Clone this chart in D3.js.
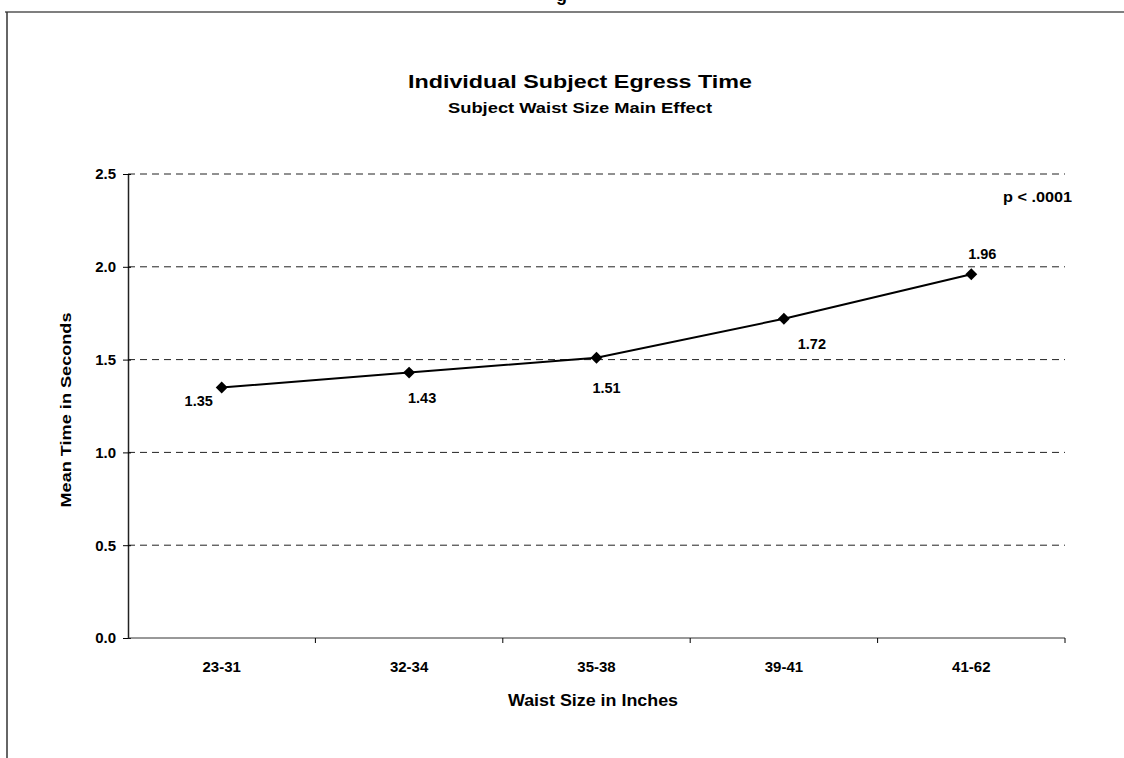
<!DOCTYPE html>
<html>
<head>
<meta charset="utf-8">
<script src="https://cdn.jsdelivr.net/npm/d3@7"></script>
<style>
  body { margin: 0; background: #fff; }
  svg { font-family: "Liberation Sans", Arial, sans-serif; font-weight: bold; }
  .tick text { font-size: 15px; font-weight: bold; fill: #000; }
</style>
</head>
<body>
<svg id="chart" width="1124" height="758"></svg>
<script>
const categories = ['23-31', '32-34', '35-38', '39-41', '41-62'];
const meanTimes = [1.35, 1.43, 1.51, 1.72, 1.96];
const yTicks = [0, 0.5, 1.0, 1.5, 2.0, 2.5];
// label offsets (dx, dy) relative to the point, like Excel put them
const labelOffsets = [[-23, 19], [13, 30], [10, 35], [28, 30], [11, -15]];

const svg = d3.select('#chart');
const plotLeft = 128, plotRight = 1065, plotTop = 174, plotBottom = 638;

// page frame
svg.append('line').attr('x1', 5).attr('x2', 1124).attr('y1', 12).attr('y2', 12)
  .attr('stroke', '#555').attr('stroke-width', 1.5);
svg.append('line').attr('x1', 7).attr('x2', 7).attr('y1', 12).attr('y2', 758)
  .attr('stroke', '#333').attr('stroke-width', 1.5);
// bit of a glyph from the page above, cut off like in the scan
svg.append('text').text('g').attr('x', 556).attr('y', 1).attr('font-size', 18)

const x = d3.scaleBand().domain(categories).range([plotLeft, plotRight]);
const y = d3.scaleLinear().domain([0, 2.5]).range([plotBottom, plotTop]);

// gridlines
svg.append('g')
  .selectAll('line')
  .data(yTicks.filter(d => d > 0))
  .enter().append('line')
  .attr('x1', plotLeft).attr('x2', plotRight)
  .attr('y1', d => y(d)).attr('y2', d => y(d))
  .attr('stroke', '#222').attr('stroke-width', 1)
  .attr('stroke-dasharray', '7,5')

const leftAxis = d3.axisLeft(y).tickValues(yTicks).tickFormat(d3.format('.1f'))
  .tickSizeInner(5).tickSizeOuter(0).tickPadding(7);
const ya = svg.append('g').attr('transform', `translate(${plotLeft},0)`).call(leftAxis);
ya.selectAll('.tick line').attr('x2', -5).attr('x1', 3);
ya.select('.domain').attr('stroke', '#222').attr('stroke-width', 1.5);

const bottomAxis = d3.axisBottom(x).tickSize(0).tickPadding(23);
const xa = svg.append('g').attr('transform', `translate(0,${plotBottom})`).call(bottomAxis);
xa.select('.domain').attr('d', `M${plotLeft},0H${plotRight}`).attr('stroke', '#333');
// tick marks at band edges
xa.selectAll('.edge')
  .data(categories)
  .enter().append('line')
  .attr('x1', (d, i) => plotLeft + x.step() * (i + 1))
  .attr('x2', (d, i) => plotLeft + x.step() * (i + 1))
  .attr('y1', 0).attr('y2', 5).attr('stroke', '#000');

// line
const cx = (d, i) => x(categories[i]) + x.bandwidth() / 2;
svg.append('path')
  .datum(meanTimes)
  .attr('fill', 'none').attr('stroke', '#000').attr('stroke-width', 2)
  .attr('d', d3.line().x(cx).y(d => y(d)));

svg.append('g')
  .selectAll('path')
  .data(meanTimes)
  .enter().append('path')
  .attr('d', d3.symbol(d3.symbolDiamond2, 90))
  .attr('transform', (d, i) => `translate(${cx(d, i)},${y(d)})`)
  .attr('fill', '#000');

svg.append('g')
  .selectAll('text')
  .data(meanTimes)
  .enter().append('text')
  .text(d => d.toFixed(2))
  .attr('x', (d, i) => cx(d, i) + labelOffsets[i][0])
  .attr('y', (d, i) => y(d) + labelOffsets[i][1])
  .attr('text-anchor', 'middle')
  .attr('font-size', 14.5);

// titles; the scan uses a wide bold face so stretch to its width
const label = (txt, px, py, size, len) => svg.append('text').text(txt)
  .attr('x', px).attr('y', py).attr('text-anchor', 'middle')
  .attr('font-size', size)
  .attr('textLength', len).attr('lengthAdjust', 'spacingAndGlyphs');

label('Individual Subject Egress Time', 580, 88, 18, 344);
label('Subject Waist Size Main Effect', 580, 113, 15, 264);
label('Waist Size in Inches', 593, 706, 16, 170);
label('Mean Time in Seconds', 0, 0, 15, 195)
  .attr('transform', 'translate(71,410) rotate(-90)');

svg.append('text').text('p < .0001')
  .attr('x', 1003).attr('y', 202).attr('font-size', 15)
  .attr('textLength', 69).attr('lengthAdjust', 'spacingAndGlyphs');
</script>
</body>
</html>
